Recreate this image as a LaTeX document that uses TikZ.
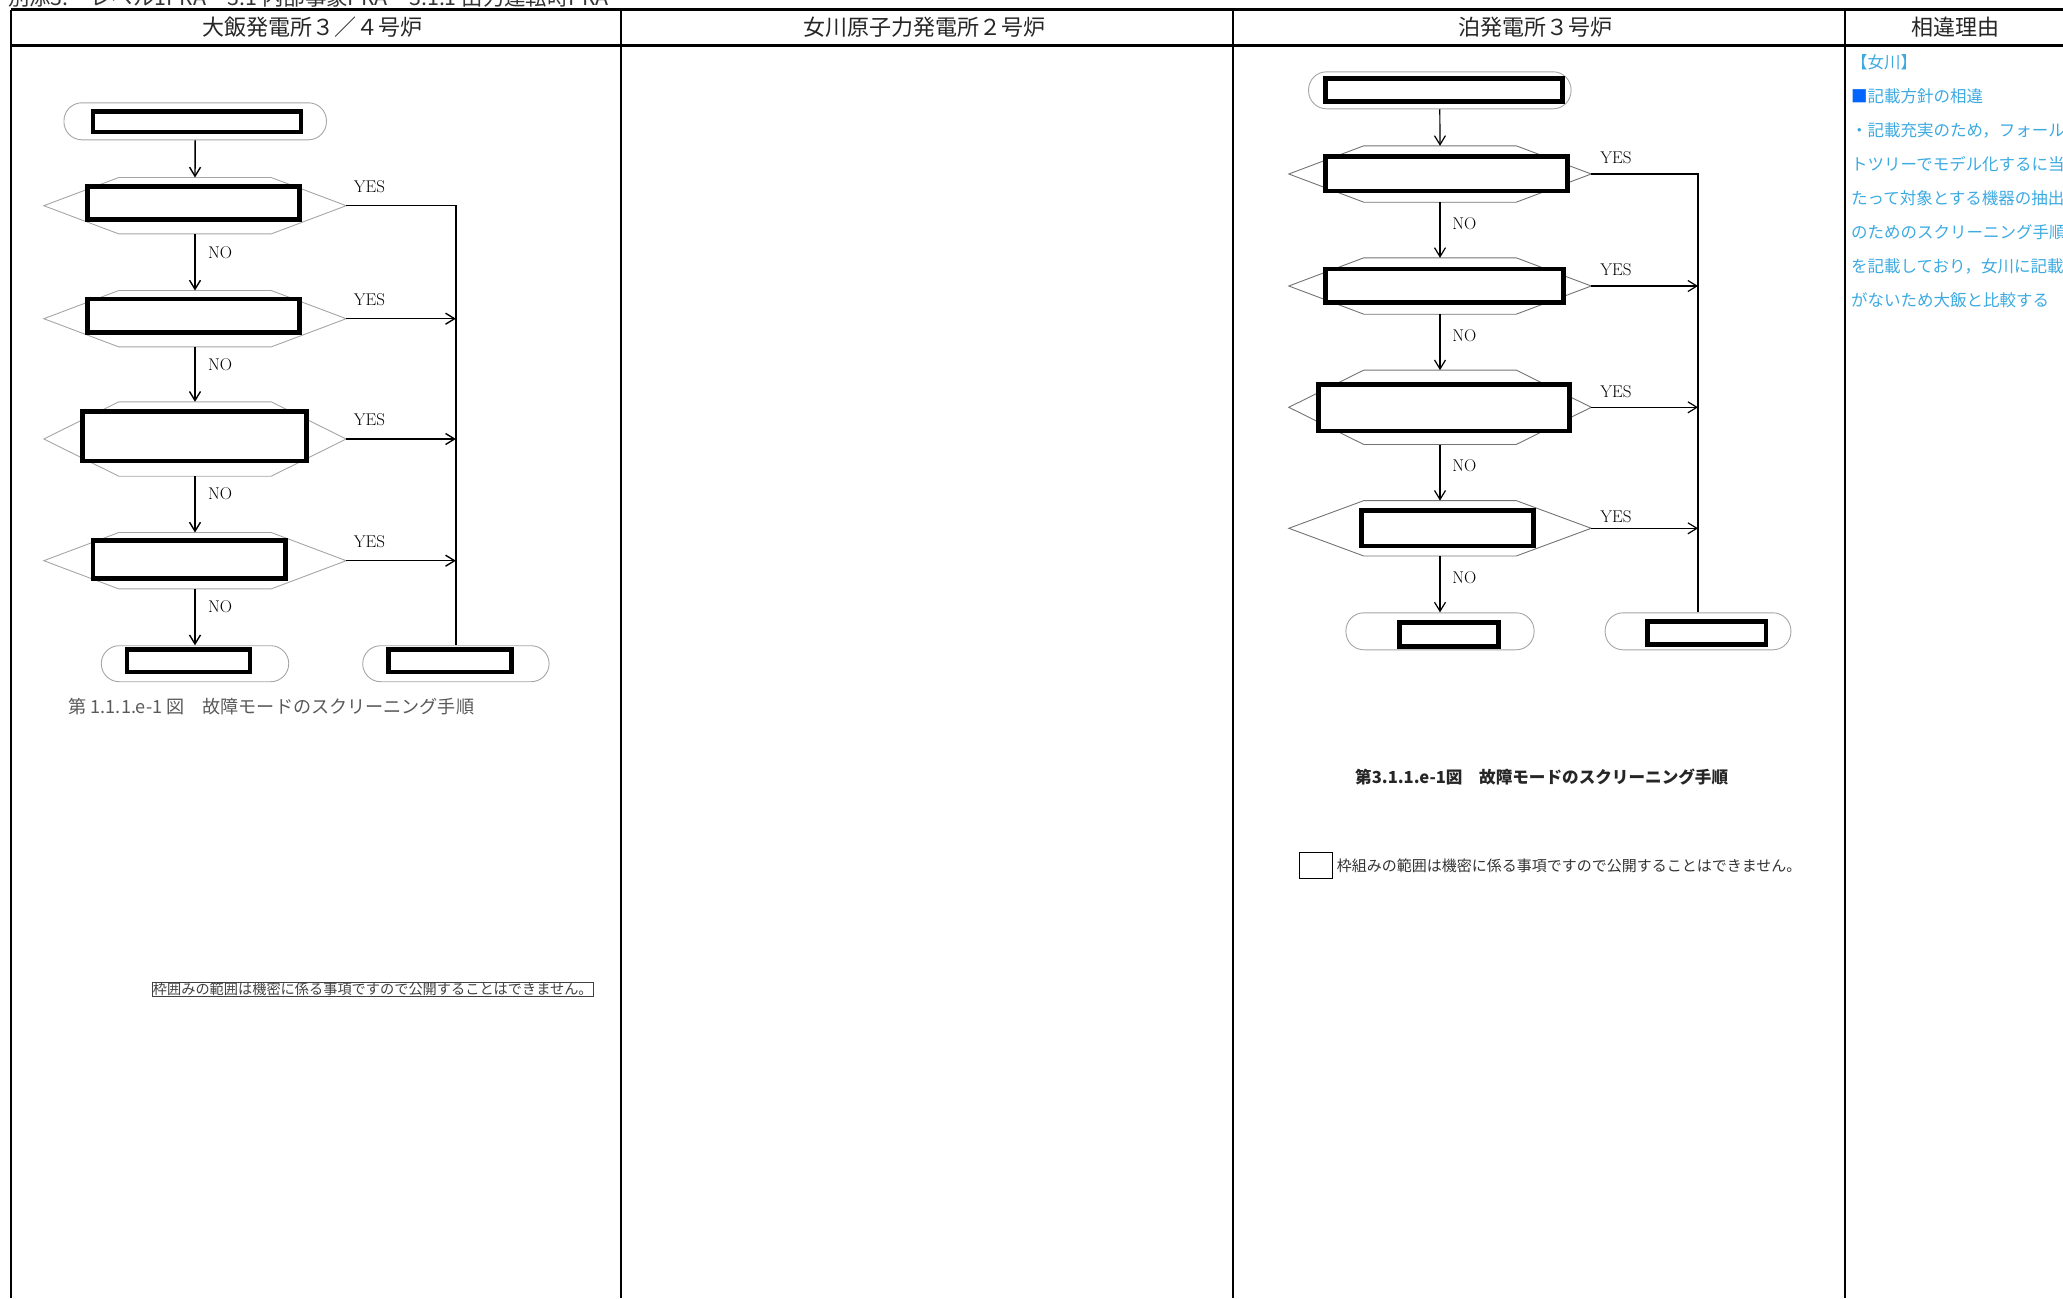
\documentclass[tikz,border=0pt]{standalone}
\usepackage{fontspec}
\usepackage{tikz}
\usetikzlibrary{positioning}
\usetikzlibrary{arrows.meta}
\newfontfamily\jp{Noto Sans CJK JP}
\definecolor{hexgray}{RGB}{165,165,165}
\definecolor{reasonblue}{RGB}{60,170,225}

\begin{document}
\begin{tikzpicture}[x=1pt,y=-1pt,
  >={Straight Barb[length=9pt,width=11pt]},
  hexbound/.style={inner sep=0pt,minimum width=302pt,minimum height=56pt},
  thickbox/.style={draw,line width=4.8pt,fill=white,inner sep=0pt},
  terminal/.style={draw=hexgray,line width=0.9pt,rounded corners=18pt,inner sep=0pt,minimum height=37pt},
  flow/.style={->,line width=1.4pt},
  yesno/.style={font=\fontsize{17}{17}\selectfont,inner sep=0pt,anchor=west},
  head/.style={font=\jp\fontsize{22}{22}\selectfont,color=black!85},
  reason/.style={font=\jp\fontsize{16.5}{16.5}\selectfont,color=reasonblue,anchor=base west,inner sep=0pt}
]
\useasboundingbox (0,0) rectangle (2063,1298);
\clip (0,0) rectangle (2063,1298);

% table
\node[anchor=base west,font=\jp\fontsize{21.4}{21.4}\selectfont,color=black!80,inner sep=0pt] (pagehead) at (8,6) {別添3.　レベル1PRA　3.1 内部事象PRA　3.1.1 出力運転時PRA};
\draw[line width=3pt] (10.5,10) -- (2063,10);
\draw[line width=3pt] (10.5,45.5) -- (2063,45.5);
\draw[line width=2pt] (10.5,10) -- (10.5,1298);
\draw[line width=2pt] (621,10) -- (621,1298);
\draw[line width=2pt] (1233,10) -- (1233,1298);
\draw[line width=1.2pt] (1845,10) -- (1845,1298);

\node[head] (h1) at (312,27.5) {大飯発電所３／４号炉};
\node[head] (h2) at (924,27.5) {女川原子力発電所２号炉};
\node[head] (h3) at (1535,27.5) {泊発電所３号炉};
\node[head] (h4) at (1955,27.5) {相違理由};

% Ohi flow
\node[terminal,minimum width=262.5pt] (ostart) at (195.2,121.3) {};
\node[hexbound] (od1) at (195,205.7) {};
\node[hexbound] (od2) at (195,318.7) {};
\node[hexbound,minimum height=74pt] (od3) at (195,439) {};
\node[hexbound] (od4) at (195,560.7) {};
\node[terminal,minimum width=187.5pt,minimum height=36pt] (oendl) at (195,663.7) {};
\node[terminal,minimum width=186.4pt,minimum height=36pt] (oendr) at (455.9,663.7) {};

% Tomari flow
\node[terminal,minimum width=262.5pt] (tstart) at (1439.8,90.3) {};
\node[hexbound] (td1) at (1440,174) {};
\node[hexbound] (td2) at (1440,286) {};
\node[hexbound,minimum height=74pt] (td3) at (1440,407.3) {};
\node[hexbound,minimum height=55pt] (td4) at (1440,528.3) {};
\node[terminal,minimum width=188.2pt] (tendl) at (1440,631.3) {};
\node[terminal,minimum width=185.8pt] (tendr) at (1698,631.3) {};

\foreach \n in {od1,od2,od3,od4}
  \draw[hexgray,line width=0.9pt] (\n.west) -- ([xshift=75pt]\n.north west) -- ([xshift=-75pt]\n.north east) -- (\n.east) -- ([xshift=-75pt]\n.south east) -- ([xshift=75pt]\n.south west) -- cycle;
\foreach \n in {td1,td2,td3,td4}
  \draw[black!55,line width=0.9pt] (\n.west) -- ([xshift=75pt]\n.north west) -- ([xshift=-75pt]\n.north east) -- (\n.east) -- ([xshift=-75pt]\n.south east) -- ([xshift=75pt]\n.south west) -- cycle;

\node[thickbox,minimum width=208pt,minimum height=20.8pt] (ob0) at (196.9,121.6) {};
\node[thickbox,minimum width=211.5pt,minimum height=33pt] (ob1) at (193.4,203) {};
\node[thickbox,minimum width=211.5pt,minimum height=33.8pt] (ob2) at (193.4,315.8) {};
\node[thickbox,minimum width=224pt,minimum height=49.5pt] (ob3) at (194.2,436.3) {};
\node[thickbox,minimum width=192.6pt,minimum height=38pt] (ob4) at (189.3,559.5) {};
\node[thickbox,minimum width=123pt,minimum height=22.5pt] (obl) at (188.4,660.8) {};
\node[thickbox,minimum width=123.4pt,minimum height=22.5pt] (obr) at (450,660.8) {};

\node[thickbox,minimum width=236.5pt,minimum height=22.8pt] (tb0) at (1444.1,89.7) {};
\node[thickbox,minimum width=242pt,minimum height=34.5pt] (tb1) at (1446.8,173.8) {};
\node[thickbox,minimum width=237.6pt,minimum height=33.8pt] (tb2) at (1444.6,285.8) {};
\node[thickbox,minimum width=251pt,minimum height=46.5pt] (tb3) at (1444.1,407.8) {};
\node[thickbox,minimum width=172.3pt,minimum height=35.5pt] (tb4) at (1447.6,528.3) {};
\node[thickbox,minimum width=98.4pt,minimum height=23.8pt] (tbl) at (1448.9,634.2) {};
\node[thickbox,minimum width=118.7pt,minimum height=22.9pt] (tbr) at (1706.6,633) {};

% NO arrows
\draw[flow] (ostart.south) -- (od1.north);
\draw[flow] (od1.south) -- node[yesno,pos=0.33,right=12.5pt]{NO} (od2.north);
\draw[flow] (od2.south) -- node[yesno,pos=0.33,right=12.5pt]{NO} (od3.north);
\draw[flow] (od3.south) -- node[yesno,pos=0.31,right=12.5pt]{NO} (od4.north);
\draw[flow] (od4.south) -- node[yesno,pos=0.31,right=12.5pt]{NO} (oendl.north);

\draw[flow,line width=1.2pt] (tstart.south) -- (td1.north);
\draw[flow,line width=1.2pt] (td1.south) -- node[yesno,pos=0.38,right=11.8pt]{NO} (td2.north);
\draw[flow,line width=1.2pt] (td2.south) -- node[yesno,pos=0.38,right=11.8pt]{NO} (td3.north);
\draw[flow,line width=1.2pt] (td3.south) -- node[yesno,pos=0.38,right=11.8pt]{NO} (td4.north);
\draw[flow,line width=1.2pt] (td4.south) -- node[yesno,pos=0.38,right=11.8pt]{NO} (tendl.north);

% YES lines
\draw[line width=1.4pt] (od1.east) node[yesno,xshift=7pt,yshift=19pt]{YES} -| (oendr.north);
\draw[flow] (od2.east) node[yesno,xshift=7pt,yshift=19pt]{YES} -- (od2.east -| oendr);
\draw[flow] (od3.east) node[yesno,xshift=7pt,yshift=19pt]{YES} -- (od3.east -| oendr);
\draw[flow] (od4.east) node[yesno,xshift=7pt,yshift=19pt]{YES} -- (od4.east -| oendr);

\draw[line width=1.2pt] (td1.east) node[yesno,xshift=8.6pt,yshift=16pt]{YES} -| (tendr.north);
\draw[flow,line width=1.2pt] (td2.east) node[yesno,xshift=8.6pt,yshift=16pt]{YES} -- (td2.east -| tendr);
\draw[flow,line width=1.2pt] (td3.east) node[yesno,xshift=8.6pt,yshift=16pt]{YES} -- (td3.east -| tendr);
\draw[flow,line width=1.2pt] (td4.east) node[yesno,xshift=8.6pt,yshift=12pt]{YES} -- (td4.east -| tendr);

% captions and notes
\node[anchor=west,inner sep=0pt,font=\jp\fontsize{18.1}{18.1}\selectfont,color=black!65] (ocap) at (68.5,706.7) {第 1.1.1.e-1 図　故障モードのスクリーニング手順};
\node[anchor=west,draw=black!60,line width=0.8pt,inner xsep=1pt,inner ysep=0.5pt,font=\jp\fontsize{14.2}{14.2}\selectfont,color=black!75] (onote) at (151.5,989) {枠囲みの範囲は機密に係る事項ですので公開することはできません。};

\node[anchor=west,inner sep=0pt,font=\jp\bfseries\fontsize{16.6}{16.6}\selectfont,color=black!85] (tcap) at (1355,776.7) {第3.1.1.e-1図　故障モードのスクリーニング手順};
\node[draw,line width=1pt,minimum width=33pt,minimum height=26pt,inner sep=0pt] (tkey) at (1315.7,865.8) {};
\node[right=4pt of tkey,inner sep=0pt,font=\jp\fontsize{15}{15}\selectfont,color=black!80] (tnote) {枠組みの範囲は機密に係る事項ですので公開することはできません。};

% reason column
\foreach \t [count=\i from 0] in {【女川】,{\color{blue!60!cyan}■}記載方針の相違,・記載充実のため，フォールトツリー,トツリーでモデル化するに当たって,たって対象とする機器の抽出,のためのスクリーニング手順,を記載しており，女川に記載,がないため大飯と比較する}
  \node[reason] (r\i) at (1851,{68+34*\i}) {\t};

\end{tikzpicture}
\end{document}
